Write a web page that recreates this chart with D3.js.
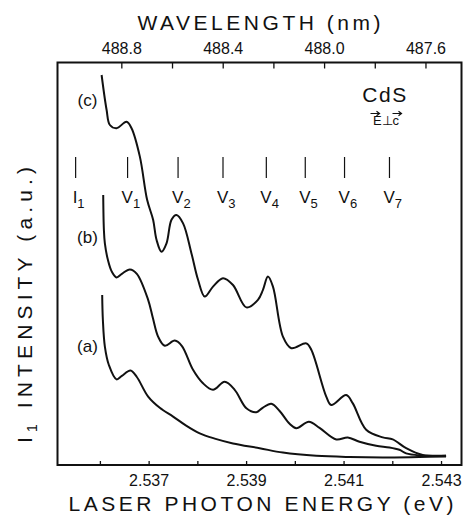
<!DOCTYPE html>
<html lang="en">
<head>
<meta charset="UTF-8">
<title>CdS I1 intensity</title>
<script src="https://cdn.jsdelivr.net/npm/d3@7"></script>
<style>
  body { margin: 0; background: #fff; }
  text { font-family: "Liberation Sans", Arial, sans-serif; fill: #111; }
</style>
</head>
<body>
<svg width="463" height="518"></svg>
<script>
// values: [photon energy (eV), intensity (a.u.)]
var curveA = [
  [2.536047, 42.5], [2.536061, 36.3], [2.536102, 29.6], [2.536184, 25.0],
  [2.536342, 21.4], [2.536451, 22.3], [2.536629, 23.6], [2.536758, 22.0],
  [2.536990, 17.1], [2.537229, 14.3], [2.537502, 12.1], [2.537762, 9.9],
  [2.538049, 7.9], [2.538356, 6.6], [2.538731, 5.4], [2.539278, 4.2],
  [2.539755, 3.1], [2.540440, 2.3], [2.541122, 2.0], [2.541804, 1.9],
  [2.542556, 2.0], [2.543103, 2.1]
];
var curveB = [
  [2.536068, 67.5], [2.536082, 58.8], [2.536102, 55.4], [2.536164, 51.3],
  [2.536246, 48.3], [2.536342, 46.9], [2.536451, 47.8], [2.536615, 48.9],
  [2.536758, 47.8], [2.536990, 41.3], [2.537086, 36.8], [2.537194, 32.1],
  [2.537332, 29.8], [2.537537, 31.1], [2.537680, 29.8], [2.537911, 23.8],
  [2.538110, 20.5], [2.538321, 18.8], [2.538561, 20.8], [2.538766, 18.8],
  [2.539006, 14.2], [2.539210, 13.2], [2.539340, 14.3], [2.539518, 15.3],
  [2.539688, 13.5], [2.539893, 10.3], [2.540030, 9.2], [2.540288, 10.8],
  [2.540507, 9.3], [2.540850, 6.4], [2.541087, 6.9], [2.541327, 5.8],
  [2.541669, 4.8], [2.541942, 4.4], [2.542146, 3.8], [2.542284, 2.9],
  [2.542556, 2.4], [2.543103, 2.3]
];
var curveC = [
  [2.536035, 97.5], [2.536137, 88.8], [2.536205, 85.0], [2.536342, 84.2],
  [2.536547, 85.8], [2.536649, 84.2], [2.536820, 77.1], [2.536969, 66.3],
  [2.537092, 61.3], [2.537162, 56.3], [2.537264, 53.3], [2.537367, 55.4],
  [2.537469, 61.3], [2.537571, 62.5], [2.537707, 60.4], [2.537879, 52.9],
  [2.538014, 46.3], [2.538151, 42.1], [2.538321, 44.6], [2.538526, 46.7],
  [2.538731, 45.0], [2.539006, 39.4], [2.539243, 41.3], [2.539346, 43.8],
  [2.539448, 47.1], [2.539551, 44.6], [2.539756, 32.1], [2.539928, 29.2],
  [2.540235, 30.4], [2.540338, 28.8], [2.540645, 17.1], [2.540747, 15.0],
  [2.541054, 17.5], [2.541190, 15.4], [2.541464, 8.8], [2.541804, 6.9],
  [2.542009, 6.4], [2.542284, 4.2], [2.542624, 2.5], [2.543103, 2.3]
];
var curveNames = ["(a)", "(b)", "(c)"];

var energyTicks = [2.536, 2.537, 2.538, 2.539, 2.540, 2.541, 2.542, 2.543];
var energyLabels = [2.537, 2.539, 2.541, 2.543];
var waveTicks = [488.8, 488.6, 488.4, 488.2, 488.0, 487.8, 487.6];
var waveLabels = [488.8, 488.4, 488.0, 487.6];

// line positions marked above the spectra
var lineNames = ["I", "V", "V", "V", "V", "V", "V", "V"];
var lineSubs = ["1", "1", "2", "3", "4", "5", "6", "7"];
var lineEnergy = [2.535502, 2.536568, 2.537604, 2.538526, 2.539415, 2.540214, 2.541020, 2.541942];

var svg = d3.select("svg");
var plotTop = 62.5, plotBottom = 465;

var x = d3.scaleLinear().domain([2.53513, 2.54342]).range([57.5, 461.5]);
var y = d3.scaleLinear().domain([0, 100]).range([465, 65]);
// wavelength (nm) = hc / E
var hc = 1239.81;
var xw = d3.scaleLinear()
  .domain(x.domain().map(function(e){ return hc / e }))
  .range(x.range());

// frame
svg.append("rect")
  .attr("x", x.range()[0]).attr("y", plotTop)
  .attr("width", x.range()[1] - x.range()[0])
  .attr("height", plotBottom - plotTop)
  .attr("fill", "none").attr("stroke", "#111").attr("stroke-width", 2);

// bottom axis
var fmtE = d3.format(".3f");
var gx = svg.append("g")
  .attr("transform", "translate(0," + plotBottom + ")")
  .call(d3.axisBottom(x)
    .tickValues(energyTicks)
    .tickSizeInner(-4).tickSizeOuter(0).tickPadding(10)
    .tickFormat(function(d){ return energyLabels.indexOf(d) >= 0 ? fmtE(d) : "" }));

// top axis
var fmtW = d3.format(".1f");
var gw = svg.append("g")
  .attr("transform", "translate(0," + plotTop + ")")
  .call(d3.axisTop(xw)
    .tickValues(waveTicks)
    .tickSizeInner(-6).tickSizeOuter(0).tickPadding(9)
    .tickFormat(function(d){ return waveLabels.indexOf(d) >= 0 ? fmtW(d) : "" }));

[gx, gw].forEach(function(g){
  g.select(".domain").remove();
  g.attr("font-family", null).attr("font-size", 16);
  g.selectAll(".tick line").attr("stroke", "#111").attr("stroke-width", 1.3);
  g.selectAll(".tick text").attr("fill", "#111");
});

// axis titles
svg.append("text")
  .attr("x", 259).attr("y", 30)
  .attr("text-anchor", "middle").attr("font-size", 21)
  .attr("textLength", 243).attr("lengthAdjust", "spacing")
  .text("WAVELENGTH  (nm)");

svg.append("text")
  .attr("x", 261).attr("y", 511)
  .attr("text-anchor", "middle").attr("font-size", 21)
  .attr("textLength", 385).attr("lengthAdjust", "spacing")
  .text("LASER  PHOTON  ENERGY  (eV)");

var yl = svg.append("text")
  .attr("transform", "translate(32,305) rotate(-90)")
  .attr("text-anchor", "middle").attr("font-size", 21)
  .attr("textLength", 276).attr("lengthAdjust", "spacing");
yl.append("tspan").text("I");
yl.append("tspan").attr("font-size", 14).attr("dy", 5).text("1");
yl.append("tspan").attr("dy", -5).text(" INTENSITY  (a.u.)");

// marker lines
var marks = svg.append("g");
marks.selectAll("line")
  .data(lineEnergy)
  .enter()
  .append("line")
  .attr("x1", function(d){ return x(d) })
  .attr("x2", function(d){ return x(d) })
  .attr("y1", 157).attr("y2", 178)
  .attr("stroke", "#111").attr("stroke-width", 1.2);

var ml = marks.selectAll("text")
  .data(lineEnergy)
  .enter()
  .append("text")
  .attr("x", function(d, i){ return x(d) - (lineNames[i] === "I" ? 3 : 6) })
  .attr("y", 203)
  .attr("font-size", 17);
ml.append("tspan").text(function(d, i){ return lineNames[i] });
ml.append("tspan").attr("font-size", 13).attr("dy", 5)
  .text(function(d, i){ return lineSubs[i] });

// spectra
var line = d3.line()
  .x(function(d){ return x(d[0]) })
  .y(function(d){ return y(d[1]) })
  .curve(d3.curveCatmullRom.alpha(0.5));

svg.append("g")
  .selectAll("path")
  .data([curveA, curveB, curveC])
  .enter()
  .append("path")
  .attr("d", line)
  .attr("fill", "none")
  .attr("stroke", "#111")
  .attr("stroke-width", 2);

// curve labels
var labelY = [352, 243, 106];
svg.append("g")
  .selectAll("text")
  .data(curveNames)
  .enter()
  .append("text")
  .attr("x", 87.5)
  .attr("y", function(d, i){ return labelY[i] })
  .attr("text-anchor", "middle")
  .attr("font-size", 17)
  .text(function(d){ return d });

// sample annotation
svg.append("text")
  .attr("x", 385).attr("y", 102)
  .attr("text-anchor", "middle").attr("font-size", 21)
  .attr("letter-spacing", 1.5)
  .text("CdS");
svg.append("text")
  .attr("x", 386).attr("y", 125)
  .attr("text-anchor", "middle").attr("font-size", 13)
  .text("E\u22A5c");
svg.append("path")
  .attr("d", "M370.5,113.5h9m-3,-2.2l3,2.2l-3,2.2M392.5,113.5h9m-3,-2.2l3,2.2l-3,2.2")
  .attr("fill", "none").attr("stroke", "#111").attr("stroke-width", 1.2);
</script>
</body>
</html>
